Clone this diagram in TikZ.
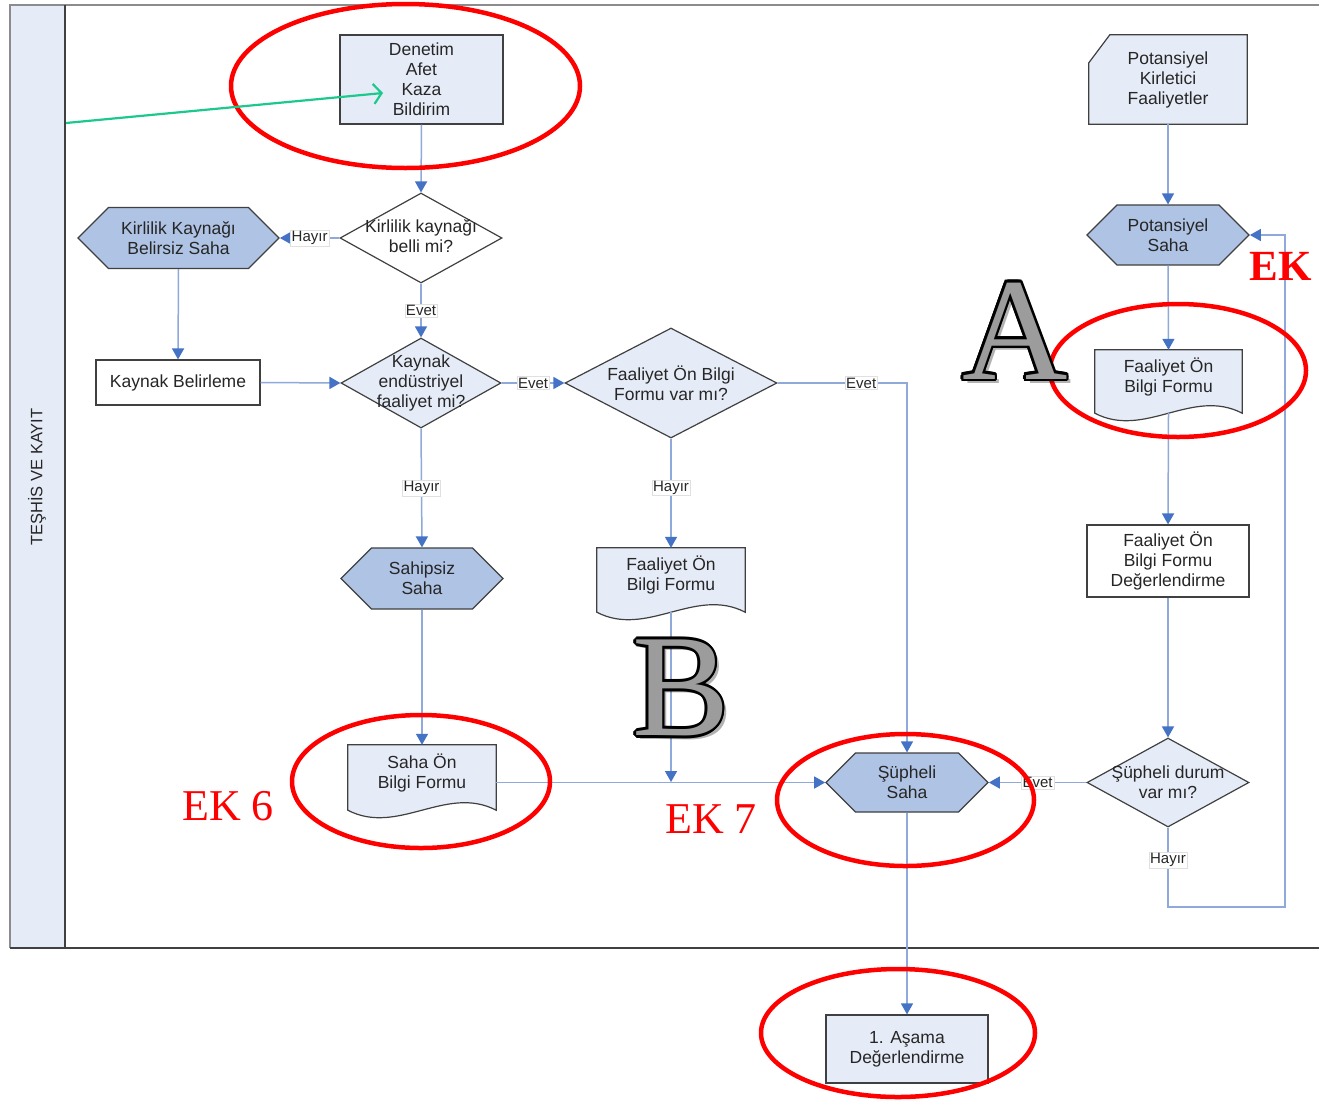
\documentclass[tikz,border=0pt]{standalone}
\usepackage{fontspec}
\setmainfont{Liberation Sans}
\newfontfamily\serifbig{Liberation Serif}
\usetikzlibrary{shapes.geometric,shapes.symbols,arrows.meta,backgrounds,calc}
\definecolor{lightfill}{HTML}{E6ECF7}
\definecolor{medfill}{HTML}{AFC3E4}
\definecolor{bord}{HTML}{404040}
\definecolor{framegray}{HTML}{8C8C8C}
\definecolor{connc}{HTML}{8FAADA}
\definecolor{tipblue}{HTML}{4472C4}
\definecolor{txt}{HTML}{262626}
\definecolor{greenarr}{HTML}{1CC98C}
\definecolor{ekred}{HTML}{FF0000}
\definecolor{letgray}{HTML}{9C9C9C}
\newcommand\nfnt{\fontsize{17.5}{20}\selectfont}
\newcommand\lfnt{\fontsize{15}{17}\selectfont}
\newcommand\lanefnt{\fontsize{16.5}{18}\selectfont}
\newcommand\bigfnt{\serifbig\fontsize{146}{146}\selectfont}
\newcommand\ekfnt{\serifbig\fontsize{44}{44}\selectfont}
\newcommand\ekbfnt{\serifbig\bfseries\fontsize{43}{43}\selectfont}
\newcommand\outltr[2]{%
  \node[bigl, text=black, opacity=0.3] at ($(#1)+(4,4)$) {#2};
  \foreach \a in {0,30,...,330}{\node[bigl,text=black] at ($(#1)+(\a:2.6)$) {#2};}
  \node[bigl, text=letgray] (let#2) at (#1) {#2};}
\pgfdeclarelayer{bgwhite}
\pgfsetlayers{bgwhite,background,main}
\begin{document}
\begin{tikzpicture}[x=1pt,y=-1pt,
  base/.style={draw=bord, line width=1.2pt, text=txt, align=center, inner sep=0pt, font=\nfnt},
  boxl/.style={base, rectangle, fill=lightfill},
  boxw/.style={base, rectangle, fill=white},
  hexa/.style={base, signal, signal to=east and west, signal pointer angle=90, fill=medfill},
  dia/.style={base, diamond},
  docn/.style={rectangle, inner sep=0pt, text=txt, align=center, font=\nfnt},
  dtxt/.style={text=txt, align=center, font=\nfnt, inner sep=0pt},
  docshape/.style={draw=bord, line width=1.2pt, fill=lightfill},
  conn/.style={draw=connc, line width=1.5pt, -{Triangle[length=11pt,width=12pt,color=tipblue]}},
  lbl/.style={fill=white, draw=black!12, line width=0.4pt, inner sep=1.2pt, font=\lfnt, text=txt},
  redell/.style={draw=ekred, line width=4.5pt},
  bigl/.style={font=\bigfnt, inner sep=0pt},
  ekt/.style={text=ekred, font=\ekfnt, inner sep=0pt}
]
\useasboundingbox (0,0) rectangle (1319,1101);
\begin{pgfonlayer}{bgwhite}
\fill[white] (0,0) rectangle (1319,1101);
\end{pgfonlayer}
% swimlane
\fill[lightfill] (10,5) rectangle (65,948);
\draw[draw=framegray, line width=2pt] (1319,5) -- (10,5) -- (10,948);
\draw[draw=bord, line width=2pt] (65,5) -- (65,948);
\draw[draw=bord, line width=1.5pt] (10,948) -- (1319,948);
\node[rotate=90, font=\lanefnt, text=txt, inner sep=0pt] (lane) at (37,477) {TEŞHİS VE KAYIT};

% nodes
\node[boxl, minimum width=163pt, minimum height=89pt] (den) at (421.5,79.5) {Denetim\\Afet\\Kaza\\Bildirim};
\node[dia, fill=white, minimum width=162pt, minimum height=90pt, label={[dtxt,yshift=2pt]center:Kirlilik kaynağı\\belli mi?}] (d1) at (421,238) {};
\node[hexa, minimum width=201pt, minimum height=61pt] (hk) at (178.5,238) {Kirlilik Kaynağı\\Belirsiz Saha};
\node[boxw, minimum width=164pt, minimum height=45pt] (kb) at (178,382.5) {Kaynak Belirleme};
\node[dia, fill=lightfill, minimum width=160pt, minimum height=90pt, label={[dtxt]center:Kaynak\\endüstriyel\\faaliyet mi?}] (d2) at (421,383) {};
\node[dia, fill=lightfill, minimum width=212pt, minimum height=110pt, label={[dtxt]center:Faaliyet Ön Bilgi\\Formu var mı?}] (d3) at (671,383) {};
\node[hexa, minimum width=162pt, minimum height=61pt] (sah) at (422,578.5) {Sahipsiz\\Saha};
\node[docn, minimum width=148pt, minimum height=65pt, label={[dtxt,yshift=5pt]center:Saha Ön\\Bilgi Formu}] (sof) at (422,777.5) {};
\node[docn, minimum width=148pt, minimum height=64pt, label={[dtxt,yshift=5pt]center:Faaliyet Ön\\Bilgi Formu}] (fobB) at (671,580) {};
\node[hexa, minimum width=162pt, minimum height=59pt] (sup) at (907,782.5) {Şüpheli\\Saha};
\node[boxl, minimum width=162pt, minimum height=68pt] (asama) at (907,1049) {1. Aşama\\Değerlendirme};
\node[docn, minimum width=158pt, minimum height=89pt] (pkf) at (1168,79.5) {Potansiyel\\Kirletici\\Faaliyetler};
\node[hexa, minimum width=162pt, minimum height=60pt] (pot) at (1168,235) {Potansiyel\\Saha};
\node[docn, minimum width=147pt, minimum height=63pt, label={[dtxt,yshift=5pt]center:Faaliyet Ön\\Bilgi Formu}] (fobA) at (1168.5,381.5) {};
\node[boxw, minimum width=162pt, minimum height=72pt] (fde) at (1168,561) {Faaliyet Ön\\Bilgi Formu\\Değerlendirme};
\node[dia, fill=lightfill, minimum width=162pt, minimum height=89pt, label={[dtxt]center:Şüpheli durum\\var mı?}] (d4) at (1168,782.5) {};

% document shapes
\begin{scope}[on background layer]
\foreach \d in {sof,fobB,fobA}{
  \draw[docshape] (\d.north west) -- (\d.north east) -- (\d.south east)
    .. controls ([xshift=-50pt,yshift=26pt]\d.south east) and ([xshift=50pt,yshift=-26pt]\d.south west) .. (\d.south west) -- cycle;}
\draw[docshape] ([yshift=-28pt]pkf.north west) -- ([xshift=21pt]pkf.north west) -- (pkf.north east) -- (pkf.south east) -- (pkf.south west) -- cycle;
\end{scope}

% connectors
\coordinate (jB) at (671,782);
\coordinate (loop) at (1285,907);
\draw[conn] (den.south) -- (d1.north);
\draw[conn] (d1.west) -- node[lbl]{Hayır} (hk.east);
\draw[conn] (hk.south) -- (kb.north);
\draw[conn] (kb.east) -- (d2.west);
\draw[conn] (d1.south) -- node[lbl]{Evet} (d2.north);
\draw[conn] (d2.east) -- node[lbl]{Evet} (d3.west);
\draw[conn] (d3.east) -| node[lbl, pos=0.323]{Evet} (sup.north);
\draw[conn] (d2.south) -- node[lbl]{Hayır} (sah.north);
\draw[conn] (sah.south) -- (sof.north);
\draw[conn] (d3.south) -- node[lbl, pos=0.45]{Hayır} (fobB.north);
\draw[conn] (fobB.south) -- (jB);
\draw[conn] (sof.east |- sup.west) -- (sup.west);
\draw[conn] (d4.west) -- node[lbl]{Evet} (sup.east);
\draw[conn] (d4.south) -- node[lbl, pos=0.41]{Hayır} (d4.south |- loop) -- (loop) -- (loop |- pot.east) -- (pot.east);
\draw[conn] (sup.south) -- (asama.north);
\draw[conn] (pkf.south) -- (pot.north);
\draw[conn] (pot.south) -- (fobA.north);
\draw[conn] (fobA.south) -- (fde.north);
\draw[conn] (fde.south) -- (d4.north);

% red ellipses
\draw[redell] (405.5,86) ellipse [x radius=174.5, y radius=82];
\draw[redell] (1178,370.5) ellipse [x radius=128, y radius=66.5];
\draw[redell] (421,781.5) ellipse [x radius=129, y radius=66.5];
\draw[redell] (905.5,800) ellipse [x radius=128.5, y radius=66];
\draw[redell] (898,1033) ellipse [x radius=137, y radius=64];

% green arrow
\coordinate (gs) at (66,123);
\coordinate (ge) at (383,93);
\draw[draw=greenarr, line width=2.2pt, -{Straight Barb[length=8pt,width=20pt]}] (gs) -- (ge);

% big letters and EK labels
\coordinate (posA) at (1015,331);
\coordinate (posB) at (681,688);
\outltr{posA}{A}
\outltr{posB}{B}
\node[ekt] (ek6) at (228,806) {EK 6};
\node[ekt] (ek7) at (711,819) {EK 7};
\node[ekt, font=\ekbfnt] (ekR) at (1281,266) {EK};
\end{tikzpicture}
\end{document}
